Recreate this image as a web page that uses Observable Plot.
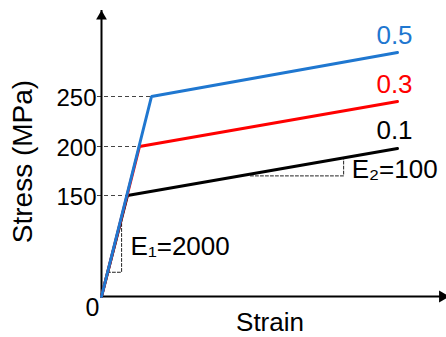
<!DOCTYPE html>
<html>
<head>
<meta charset="utf-8">
<script src="https://cdn.jsdelivr.net/npm/d3@7"></script>
<script src="https://cdn.jsdelivr.net/npm/@observablehq/plot@0.6"></script>
<style>
  html, body { margin: 0; padding: 0; background: #fff; }
</style>
</head>
<body>
<div id="chart"></div>
<script>
// ---- data ----
const series = ["0.1", "0.3", "0.5"];
const seriesColors = ["#000000", "#ff0000", "#1f77d0"];
const yieldStrain = [0.075, 0.1, 0.125];
const yieldStress = [150, 200, 250];
const endStrain = [0.6, 0.6, 0.6];
const endStress = [198, 245, 294];
const yTicks = [150, 200, 250];
// slope triangles
const e1Strain = [0.017, 0.058, 0.058];
const e1Stress = [36, 36, 123];
const e1Label = "E\u2081=2000";
const e2Strain = [0.316, 0.496, 0.496];
const e2Stress = [170, 170, 188];
const e2Label = "E\u2082=100";
const xTitle = "Strain";
const yTitle = "Stress (MPa)";

// rows for curves: origin -> yield -> end
const rows = [];
series.forEach((s, i) => {
  rows.push({s, x: 0, y: 0});
  rows.push({s, x: yieldStrain[i], y: yieldStress[i]});
  rows.push({s, x: endStrain[i], y: endStress[i]});
});
const idx = series.map((_, i) => i);
const tri1 = e1Strain.map((x, i) => ({x, y: e1Stress[i]}));
const tri2 = e2Strain.map((x, i) => ({x, y: e2Stress[i]}));
const font = "Liberation Sans, Arial, sans-serif";

const chart = Plot.plot({
  width: 446,
  height: 337,
  marginLeft: 101,
  marginRight: 0,
  marginTop: 10,
  marginBottom: 41,
  style: {fontFamily: font, background: "#fff", overflow: "visible"},
  // schematic (piecewise) scales, as in the original sketch
  x: {type: "linear", domain: [0, 0.075, 0.1, 0.125, 0.6], range: [101, 127, 139, 151, 397], axis: null},
  y: {type: "linear", domain: [0, 150, 200, 250, 300], range: [296, 195, 146, 96, 46], axis: null},
  color: {domain: series, range: seriesColors},
  marks: [
    // dashed guides to yield points
    Plot.ruleY(idx, {
      y: i => yieldStress[i], x1: () => 0, x2: i => yieldStrain[i],
      stroke: "#444", strokeWidth: 1, strokeDasharray: "4,3", insetLeft: -4
    }),
    // slope triangles
    Plot.line(tri1, {x: "x", y: "y", stroke: "#222", strokeWidth: 1, strokeDasharray: "3,2"}),
    Plot.line(tri2, {x: "x", y: "y", stroke: "#222", strokeWidth: 1, strokeDasharray: "3,2"}),
    // axes
    Plot.ruleX([0], {stroke: "#000", strokeWidth: 2}),
    Plot.ruleY([0], {stroke: "#000", strokeWidth: 2}),
    Plot.dot([0], {x: d => d, frameAnchor: "top", symbol: "triangle", r: 4, fill: "#000", stroke: "none", dy: 6}),
    Plot.dot([0], {y: d => d, frameAnchor: "right", symbol: "triangle", rotate: 90, r: 4.4, fill: "#000", stroke: "none", dx: -4}),
    Plot.axisY(yTicks, {tickSize: 0, tickPadding: 5, fontSize: 24, label: null, dy: 2, fill: "#000"}),
    Plot.text(["0"], {x: () => 0, y: () => 0, text: d => d, textAnchor: "end", lineAnchor: "top", dx: -2, dy: 2, fontSize: 25}),
    // curves
    Plot.line(rows, {x: "x", y: "y", z: "s", stroke: "s", strokeWidth: 3, strokeLinejoin: "miter"}),
    // series labels
    Plot.text(idx, {
      x: i => endStrain[i], y: i => endStress[i], text: i => series[i], fill: i => series[i],
      textAnchor: "middle", lineAnchor: "bottom", dx: -3, dy: -9, fontSize: 26
    }),
    // slope labels
    Plot.text([e1Label], {x: () => e1Strain[2], y: () => (e1Stress[1] + e1Stress[2]) / 2, text: d => d,
      textAnchor: "start", lineAnchor: "middle", dx: 9, dy: 4, fontSize: 26}),
    Plot.text([e2Label], {x: () => e2Strain[2], y: () => (e2Stress[1] + e2Stress[2]) / 2, text: d => d,
      textAnchor: "start", lineAnchor: "middle", dx: 8, dy: 3, fontSize: 26}),
    // axis titles
    Plot.text([xTitle], {frameAnchor: "bottom", text: d => d, textAnchor: "middle", lineAnchor: "top", dx: -4, dy: 16, fontSize: 26}),
    Plot.text([yTitle], {frameAnchor: "left", text: d => d, rotate: -90, textAnchor: "middle", lineAnchor: "middle", dx: -78, dy: 8, fontSize: 28})
  ]
});
document.getElementById("chart").appendChild(chart);
</script>
</body>
</html>
